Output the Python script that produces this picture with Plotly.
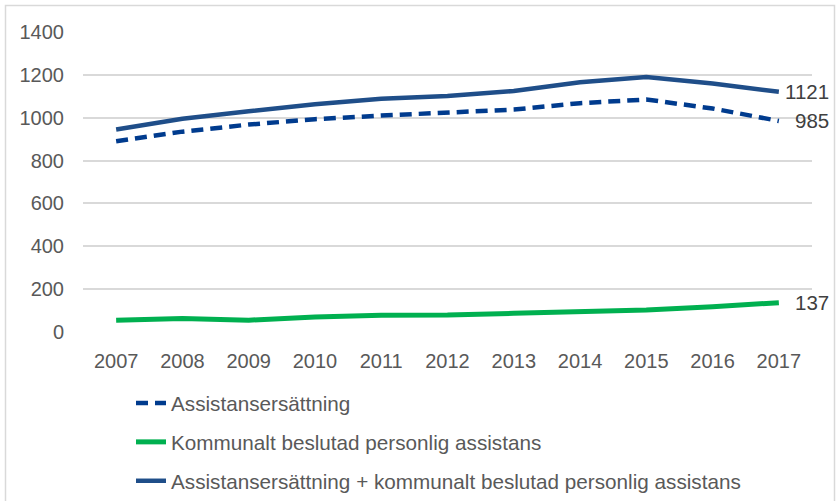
import plotly.graph_objects as go

years = list(range(2007, 2018))
assistansersattning = [890, 935, 968, 993, 1010, 1022, 1038, 1068, 1085, 1043, 985]
kommunalt = [55, 63, 55, 70, 78, 79, 87, 95, 103, 118, 137]
totalt = [945, 995, 1030, 1063, 1088, 1101, 1125, 1165, 1190, 1160, 1121]

names = [
    "Assistansersättning",
    "Kommunalt beslutad personlig assistans",
    "Assistansersättning + kommunalt beslutad personlig assistans",
]
y_ticks = [0, 200, 400, 600, 800, 1000, 1200, 1400]

FONT = "Liberation Sans, Arial, sans-serif"
W, H = 836, 501
L, R, T, B = 83, 24, 32, 169
PW = W - L - R
PH = H - T - B


def px_x(px):
    return (px - L) / PW


def px_y(py):
    return (H - B - py) / PH


fig = go.Figure()
fig.add_trace(go.Scatter(x=years, y=assistansersattning, name=names[0], mode="lines",
                         legendgroup="a",
                         line=dict(color="#003B8E", width=4.5, dash="12px,7px")))
fig.add_trace(go.Scatter(x=years, y=kommunalt, name=names[1], mode="lines",
                         legendgroup="b",
                         line=dict(color="#00B050", width=5)))
fig.add_trace(go.Scatter(x=years, y=totalt, name=names[2], mode="lines",
                         legendgroup="c",
                         line=dict(color="#1F4E89", width=4.5)))

for series in (totalt, assistansersattning, kommunalt):
    fig.add_annotation(x=years[-1], y=series[-1], xref="x", yref="y",
                       text=str(series[-1]), showarrow=False,
                       xanchor="right", yanchor="middle", xshift=52,
                       font=dict(family=FONT, size=20.5, color="#404040"))

fig.add_shape(type="rect", xref="paper", yref="paper",
              x0=px_x(5.5), x1=px_x(834.5), y0=px_y(503), y1=px_y(5.5),
              line=dict(color="#D9D9D9", width=1.5), layer="below")

fig.update_layout(
    width=W, height=H,
    margin=dict(l=L, r=R, t=T, b=B, autoexpand=False),
    paper_bgcolor="white", plot_bgcolor="white",
    font=dict(family=FONT, size=20, color="#595959"),
    showlegend=True,
    legend=dict(
        x=px_x(131), y=px_y(383), xanchor="left", yanchor="top",
        orientation="v", traceorder="grouped", tracegroupgap=9,
        font=dict(family=FONT, size=20.7, color="#595959"),
        bgcolor="rgba(0,0,0,0)",
    ),
    xaxis=dict(
        range=[2006.5, 2017.5], tickvals=years, showgrid=False, zeroline=False,
        showline=False, ticks="", ticklabelstandoff=15,
        tickfont=dict(family=FONT, size=20, color="#595959"),
    ),
    yaxis=dict(
        range=[0, 1400], tickvals=y_ticks, showgrid=True, gridcolor="#D9D9D9",
        gridwidth=1.5, zeroline=False, showline=False, ticks="",
        ticklabelstandoff=18,
        tickfont=dict(family=FONT, size=20, color="#595959"),
    ),
)

fig.write_html("out.html", config={"displayModeBar": False},
               post_script="document.body.style.margin='0';")
